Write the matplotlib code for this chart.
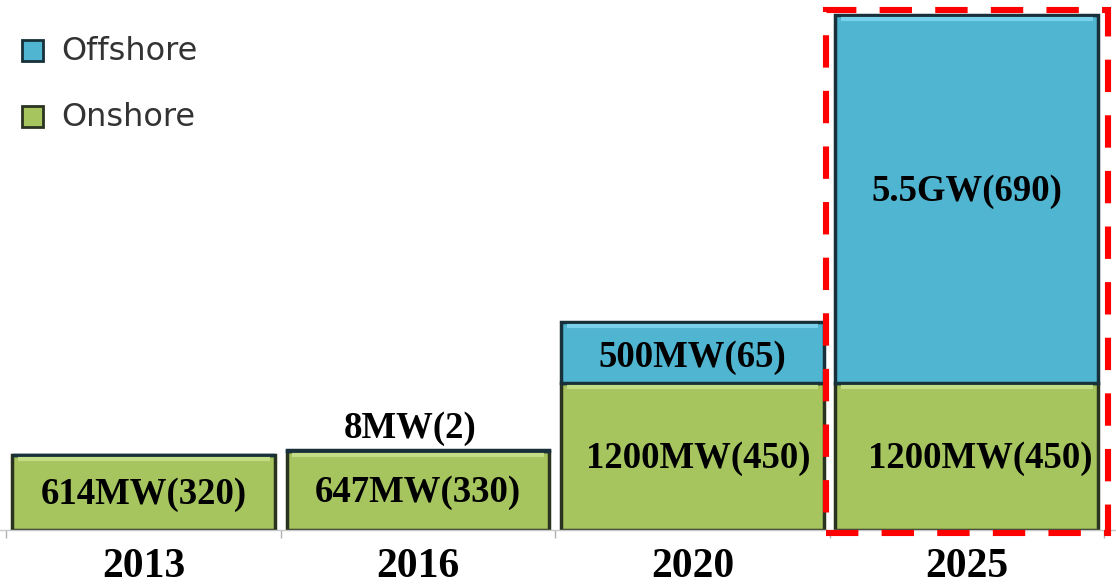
import matplotlib
matplotlib.use("Agg")
import matplotlib.pyplot as plt
from matplotlib.patches import Rectangle

# ---- data ----
years = ["2013", "2016", "2020", "2025"]
onshore_mw = [614, 647, 1200, 1200]
# 2025 offshore (5.5 GW) is drawn shortened in the original picture
offshore_drawn = [0, 8, 500, 3000]
onshore_labels = ["614MW(320)", "647MW(330)", "1200MW(450)", "1200MW(450)"]
offshore_labels = ["", "8MW(2)", "500MW(65)", "5.5GW(690)"]
series_names = ["Offshore", "Onshore"]

GREEN = "#a6c55f"
BLUE = "#50b5d1"
GREEN_EDGE = "#2a3320"
BLUE_EDGE = "#17303a"

fig = plt.figure(figsize=(11.16, 5.85), dpi=100)
ax = fig.add_axes([0, 0.094, 1, 0.906])

x = list(range(len(years)))
w = 0.958
ax.bar(x, onshore_mw, width=w, color=GREEN, edgecolor=GREEN_EDGE, linewidth=2.5, zorder=2)
ax.bar(x, offshore_drawn, width=w, bottom=onshore_mw, color=BLUE, edgecolor=BLUE_EDGE,
       linewidth=2.5, zorder=2)

# subtle bevel highlight near the top of each segment
for i in x:
    ax.plot([i - w / 2 + 0.02, i + w / 2 - 0.02], [onshore_mw[i] - 35] * 2,
            color="#c3dd86", lw=3, solid_capstyle="butt", zorder=3)
    if offshore_drawn[i] > 100:
        top = onshore_mw[i] + offshore_drawn[i]
        ax.plot([i - w / 2 + 0.02, i + w / 2 - 0.02], [top - 35] * 2,
                color="#78d2ec", lw=3, solid_capstyle="butt", zorder=3)

ax.set_xlim(-0.523, 3.543)
ax.set_ylim(0, 4322)

serif = ["Liberation Serif", "DejaVu Serif"]
lab_kw = dict(family=serif, fontweight="bold", fontsize=26.5, color="black",
              ha="center", va="center", zorder=5)

# onshore labels
for i in x:
    dx = 0.05 if i == 3 else (0.02 if i == 2 else 0.0)
    dy = -20 if i < 2 else -15
    ax.text(i + dx, onshore_mw[i] / 2 + dy, onshore_labels[i], **lab_kw)
# offshore labels
for i in x:
    if not offshore_labels[i]:
        continue
    if offshore_drawn[i] < 100:
        ax.text(i - 0.03, onshore_mw[i] + offshore_drawn[i] + 170, offshore_labels[i], **lab_kw)
    else:
        yy = onshore_mw[i] + offshore_drawn[i] / 2
        yy += 60 if i == 3 else -40
        ax.text(i, yy, offshore_labels[i], **lab_kw)

# axis styling
for s in ["top", "right", "left"]:
    ax.spines[s].set_visible(False)
ax.spines["bottom"].set_color("#c8c8c8")
ax.spines["bottom"].set_linewidth(1.0)
ax.set_yticks([])
ax.set_xticks([-0.5, 0.5, 1.5, 2.5, 3.5])
ax.set_xticklabels([])
ax.tick_params(axis="x", length=6, color="#b0b0b0", width=1)
ax.set_xticks(x, minor=True)
ax.set_xticklabels(years, minor=True, fontfamily=serif, fontweight="bold", fontsize=30)
ax.tick_params(axis="x", which="minor", length=0, pad=13)

# dashed red highlight
rect = Rectangle((2.486, -24), 1.027, 4265, fill=False, edgecolor="#ff0000",
                 linewidth=4.4, linestyle=(0, (5.3, 3.8)), clip_on=False, zorder=6)
ax.add_patch(rect)

# legend (manual)
leg_colors = [(BLUE, BLUE_EDGE), (GREEN, GREEN_EDGE)]
for k, (name, (fc, ec)) in enumerate(zip(series_names, leg_colors)):
    ytop = 40 + k * 66
    fig.patches.append(Rectangle((22 / 1116, 1 - (ytop + 21) / 585), 21 / 1116, 21 / 585,
                                 transform=fig.transFigure, facecolor=fc, edgecolor=ec,
                                 linewidth=2, figure=fig))
    fig.text(61 / 1116, 1 - (ytop + 11) / 585, name, fontsize=23, color="#333333",
             family=["DejaVu Sans"], ha="left", va="center")

fig.savefig("out.png", dpi=100)
